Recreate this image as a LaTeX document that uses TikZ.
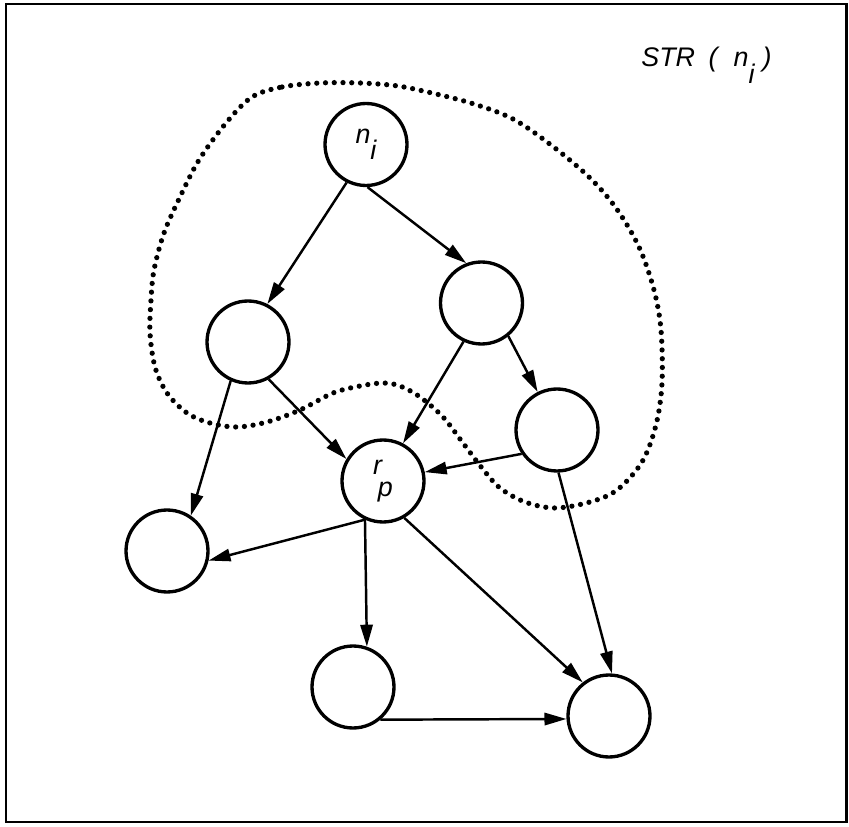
\documentclass[tikz,border=0pt]{standalone}
\usepackage{fontspec}
\setmainfont{Liberation Sans}
\usetikzlibrary{arrows.meta}
\begin{document}
\begin{tikzpicture}[x=0.02cm,y=-0.02cm,
  vtx/.style={circle,draw,line width=1.9pt,minimum size=1.64cm,inner sep=0pt,
    font=\fontsize{15.3}{18}\selectfont\itshape},
  edge/.style={line width=1.4pt,-{Triangle[length=12.5pt,width=7pt]}},
  dots/.style={line width=0.105cm,line cap=round,dash pattern=on 0pt off 0.175cm},
  lbl/.style={font=\fontsize{15.3}{18}\selectfont\itshape,inner sep=0pt}]
\useasboundingbox (0,0) rectangle (849,827);
\draw[line width=1.7pt] (6,4) rectangle (846,822);

% dotted region
\draw[dots] plot[smooth cycle, tension=0.55] coordinates {
 (252,97) (282,87) (320,83) (360,83) (398,86) (436,94) (474,104) (513,119)
 (551,145) (589,177) (616,208) (639,247) (654,290) (661,330) (662,383)
 (656,425) (642,462) (617,490) (590,502) (555,508) (525,502) (500,488)
 (482,468) (463,443) (443,417) (420,397) (400,386) (383,383) (360,386)
 (333,393) (300,410) (267,422) (237,427) (210,423) (187,413) (167,393)
 (155,367) (150,333) (151,300) (154,270) (164,233) (180,197) (199,160)
 (226,123)};

% nodes
\node[vtx] (ni) at (366,144.5) {n\raisebox{-0.6em}{i}};
\node[vtx] (L1) at (248,342) {};
\node[vtx] (R1) at (481.5,303) {};
\node[vtx] (RR) at (557,430) {};
\node[vtx] (rp) at (383,481) {r\kern-0.15em\raisebox{-0.8em}{p}};
\node[vtx] (BL) at (167,551) {};
\node[vtx] (BM) at (353,687) {};
\node[vtx] (BR) at (609,716) {};

\node[lbl,anchor=base west] (title) at (641,67)
  {STR\hspace{0.5em}(\hspace{0.6em}n\raisebox{-0.6em}{i}\hspace{0.3em})};

% edges
\draw[edge] (ni.-117) -- (L1.63);
\draw[edge] (ni.-88.6) -- (R1.111);
\draw[edge] (L1.-114) -- (BL.56);
\draw[edge] (L1.-61) -- (rp.149);
\draw[edge] (R1.-115) -- (rp.62);
\draw[edge] (R1.-51) -- (RR.117);
\draw[edge] (RR.-146) -- (rp.12);
\draw[edge] (RR.-88.6) -- (BR.86);
\draw[edge] (rp.-115) -- (BL.-13);
\draw[edge] (rp.-115) -- (BM.71.5);
\draw[edge] (rp.-60.6) -- (BR.128);
\draw[edge] (BM.-50) -- (BR.184);
\end{tikzpicture}
\end{document}
